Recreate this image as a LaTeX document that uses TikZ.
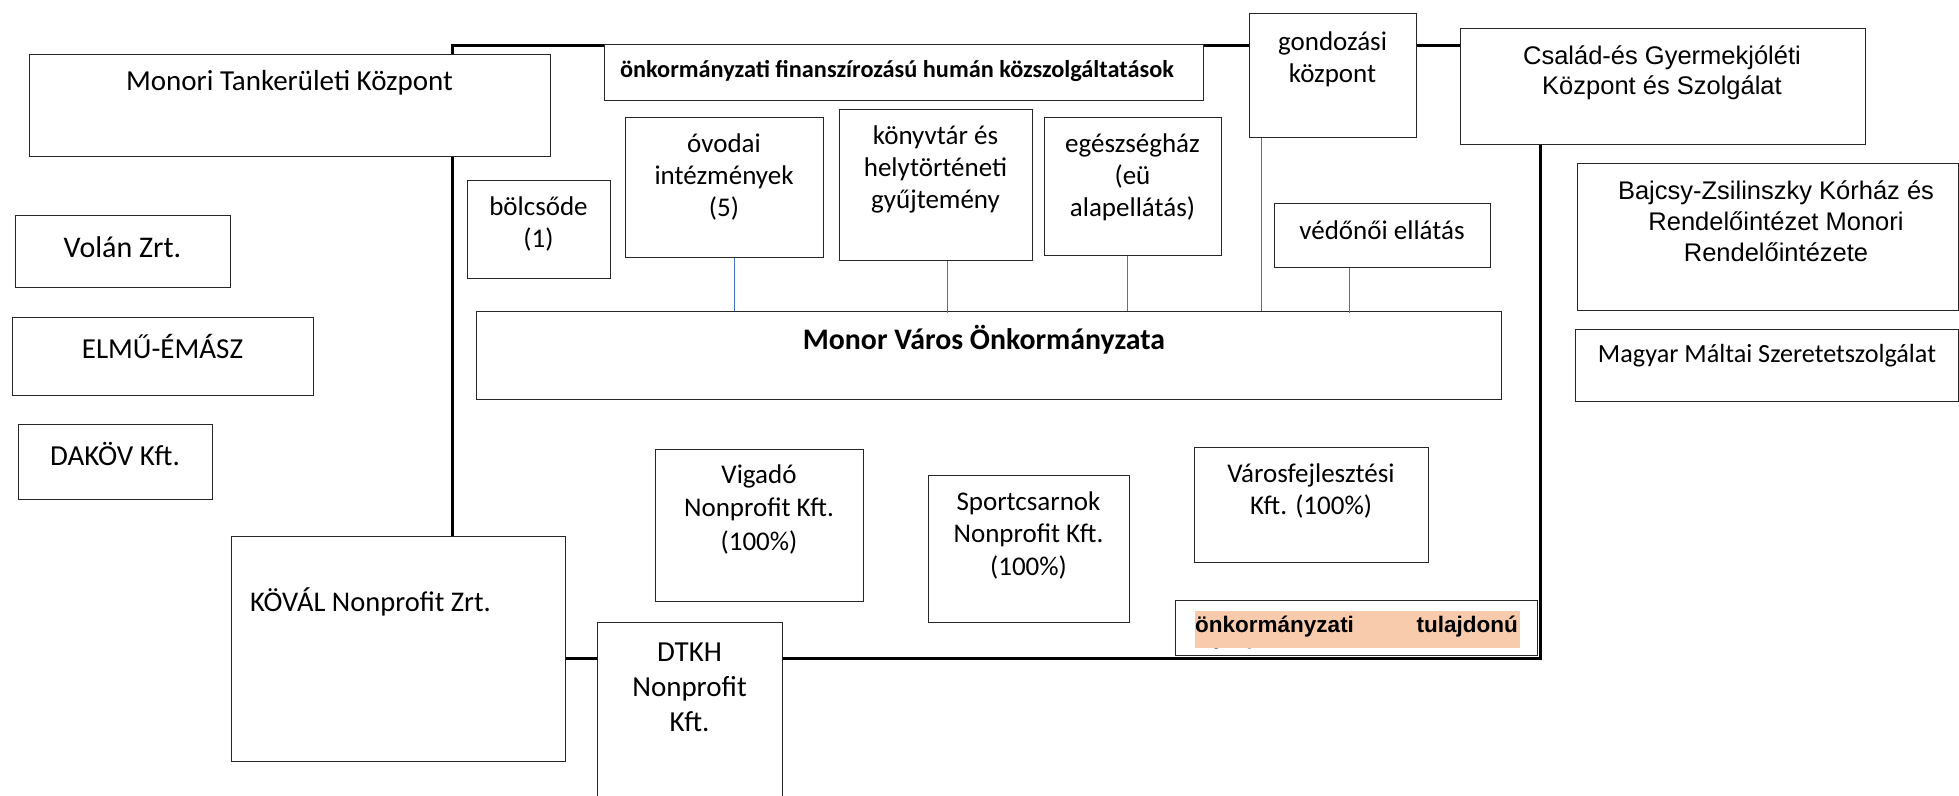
\documentclass[tikz,border=0pt]{standalone}
\usepackage{fontspec}
\setmainfont{Carlito}
\newfontfamily\robo{Liberation Sans}
\definecolor{connblue}{HTML}{4472C4}
\definecolor{peach}{HTML}{F8CBAD}
\tikzset{
  bx/.style={draw=black!85, line width=1.2pt, fill=white, inner sep=0pt, anchor=north west},
  frm/.style={draw=black, line width=3pt, inner sep=0pt, anchor=north west},
  conn/.style={draw=connblue, line width=1.1pt},
  txt/.style={inner sep=0pt, align=center, font=\fontsize{27}{32}\selectfont},
  bigtxt/.style={inner sep=0pt, align=center, font=\fontsize{29}{35}\selectfont},
  robotxt/.style={inner sep=0pt, align=center, font=\robo\fontsize{25.5}{31}\selectfont},
}
\newcommand\mkbox[6][]{%
  \pgfmathsetmacro\bw{#5-#3}\pgfmathsetmacro\bh{#6-#4}%
  \node[bx, minimum width=\bw pt, minimum height=\bh pt, #1] (#2) at (#3,#4) {};}
\begin{document}
\begin{tikzpicture}[x=1pt,y=-1pt]
\useasboundingbox (0,0) rectangle (1959,795);
% frame
\node[frm, minimum width=1088pt, minimum height=613pt] (frame) at (451,44) {};
% boxes
\mkbox{monori}{29}{54}{550}{156}
\mkbox{volan}{15}{215}{230}{287}
\mkbox{elmu}{12}{317}{313}{395}
\mkbox{dakov}{18}{424}{212}{499}
\mkbox{koval}{231}{536}{565}{761}
\mkbox{dtkh}{597}{622}{782}{798}
\mkbox{humhead}{604}{44}{1203}{100}
\mkbox{bolcs}{467}{180}{610}{278}
\mkbox{ovoda}{625}{117}{823}{257}
\mkbox{konyv}{839}{109}{1032}{260}
\mkbox{eu}{1044}{117}{1221}{255}
\mkbox{gond}{1249}{13}{1416}{137}
\mkbox{vedo}{1274}{203}{1490}{267}
\mkbox{csalad}{1460}{28}{1865}{144}
\mkbox{bajcsy}{1577}{163}{1958}{310}
\mkbox{maltai}{1575}{329}{1958}{401}
\mkbox{monor}{476}{311}{1501}{399}
\mkbox{vigado}{655}{449}{863}{601}
\mkbox{sport}{928}{475}{1129}{622}
\mkbox{varos}{1194}{447}{1428}{562}
\mkbox{tulaj}{1175}{600}{1537}{655}
\mkbox[draw=none,fill=peach]{tulajbg}{1194}{610}{1519}{647}
% texts
\node[bigtxt] (tmonori) at (289.5,83) {Monori Tankerületi Központ};
\node[bigtxt, font=\fontsize{30}{35}\selectfont] (tvolan) at (122.5,247) {Volán Zrt.};
\node[bigtxt] (telmu) at (162.5,346) {ELMŰ-ÉMÁSZ};
\node[bigtxt] (tdakov) at (115,454) {DAKÖV Kft.};
\node[txt, anchor=west, font=\fontsize{28.5}{33}\selectfont] (tkoval) at (250,602) {KÖVÁL Nonprofit Zrt.};
\node[bigtxt] (tdtkh) at (689.5,687) {DTKH\\Nonprofit\\Kft.};
\node[inner sep=0pt, font=\bfseries\fontsize{24.3}{29}\selectfont] (thum) at (897,71) {önkormányzati finanszírozású humán közszolgáltatások};
\node[txt] (tbolcs) at (538.5,224) {bölcsőde\\(1)};
\node[txt] (tovoda) at (724,177) {óvodai\\intézmények\\(5)};
\node[txt] (tkonyv) at (935.5,169) {könyvtár és\\helytörténeti\\gyűjtemény};
\node[txt] (teu) at (1132.5,177) {egészségház\\(eü\\alapellátás)};
\node[txt] (tgond) at (1332.5,59) {gondozási\\központ};
\node[txt] (tvedo) at (1382,230) {védőnői ellátás};
\node[robotxt, font=\robo\fontsize{25.5}{30}\selectfont] (tcsalad) at (1662,73) {Család-és Gyermekjóléti\\Központ és Szolgálat};
\node[robotxt] (tbajcsy) at (1776,221) {Bajcsy-Zsilinszky Kórház és\\Rendelőintézet Monori\\Rendelőintézete};
\node[inner sep=0pt, font=\fontsize{26.2}{31}\selectfont] (tmaltai) at (1767,356) {Magyar Máltai Szeretetszolgálat};
\node[inner sep=0pt, font=\bfseries\fontsize{29.8}{35}\selectfont] (tmonor) at (984,340) {Monor Város Önkormányzata};
\node[txt, font=\fontsize{27}{33.5}\selectfont] (tvigado) at (759,509) {Vigadó\\Nonprofit Kft.\\(100\%)};
\node[txt, font=\fontsize{27}{32.5}\selectfont] (tsport) at (1028.5,535) {Sportcsarnok\\Nonprofit Kft.\\(100\%)};
\node[txt] (tvaros) at (1311,491) {Városfejlesztési\\Kft. (100\%)};
\begin{scope}
  \clip (tulajbg.north west) rectangle (tulajbg.south east);
  \node[inner sep=0pt, anchor=base west, font=\robo\bfseries\fontsize{22.5}{27}\selectfont] (ttulA) at (1195,632) {önkormányzati};
  \node[inner sep=0pt, anchor=base east, font=\robo\bfseries\fontsize{22.5}{27}\selectfont] (ttulB) at (1518,632) {tulajdonú};
  \node[inner sep=0pt, anchor=base west, font=\robo\bfseries\fontsize{22.5}{27}\selectfont] (ttulC) at (1195,665) {cégek};
\end{scope}
% blue connectors
\coordinate (c1) at ([xshift=10pt]ovoda.south);
\coordinate (c2) at ([xshift=11.5pt]konyv.south);
\coordinate (c3) at ([xshift=-5.5pt]eu.south);
\coordinate (c4) at ([xshift=-71.5pt]gond.south);
\coordinate (c5) at ([xshift=-33pt]vedo.south);
\coordinate (m2) at ([yshift=-2pt]c2 |- monor.north);
\coordinate (m5) at ([yshift=-2pt]c5 |- monor.north);
\draw[conn] (c1) -- (c1 |- monor.north);
\draw[conn] (c2) -- (m2);
\draw[conn] (c3) -- (c3 |- monor.north);
\draw[conn] (c4) -- (c4 |- monor.north);
\draw[conn] (c5) -- (m5);
\end{tikzpicture}
\end{document}
